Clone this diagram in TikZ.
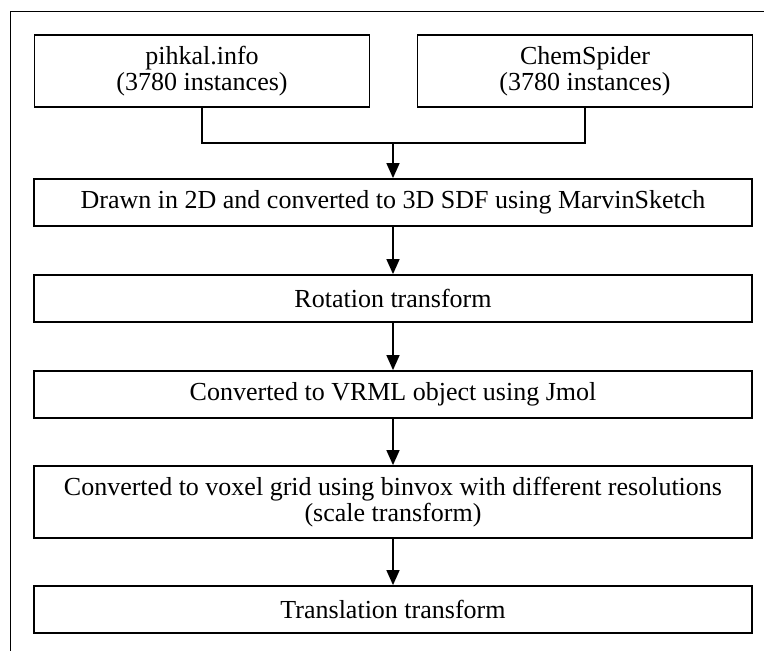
\documentclass[tikz,border=0pt]{standalone}
\usepackage{fontspec}
\setmainfont{Liberation Serif}
\usetikzlibrary{arrows.meta,positioning}

\tikzset{
  stage/.style={draw, line width=1.8pt, minimum width=718pt, minimum height=47pt,
    inner sep=0pt, align=center, font=\fontsize{26}{26}\selectfont},
  source/.style={stage, minimum width=335pt, minimum height=72pt},
  flow/.style={-{Triangle[length=15pt,width=13pt]}, line width=1.5pt},
}

\begin{document}
\begin{tikzpicture}[x=1pt,y=-1pt]
    \useasboundingbox (0,0) rectangle (764,651);
    % outer frame
    \draw [line width=1.6pt] (10.5,651) -- (10.5,11.5) -- (764,11.5);
    \node [source] (pihkal) at (202,71) {pihkal.info\\(3780 instances)};
    \node [source] (chem) at (585,71) {ChemSpider\\(3780 instances)};
    \node [stage] (sdf) at (393,202.5) {Drawn in 2D and converted to 3D SDF using MarvinSketch};
    \node [stage] (rot) at (393,298.5) {Rotation transform};
    \node [stage] (vrml) at (393,394.5) {Converted to VRML object using Jmol};
    \node [stage, minimum height=72pt] (voxel) at (393,502) {Converted to voxel grid using binvox with different resolutions\\(scale transform)};
    \node [stage] (trans) at (393,609.5) {Translation transform};
    \coordinate (join) at (393,143);
    \draw [line width=1.5pt] (pihkal.south) |- (join) -| (chem.south);
    \draw [flow] (join) -- (sdf);
    \draw [flow] (sdf) -- (rot);
    \draw [flow] (rot) -- (vrml);
    \draw [flow] (vrml) -- (voxel);
    \draw [flow] (voxel) -- (trans);
\end{tikzpicture}
\end{document}
